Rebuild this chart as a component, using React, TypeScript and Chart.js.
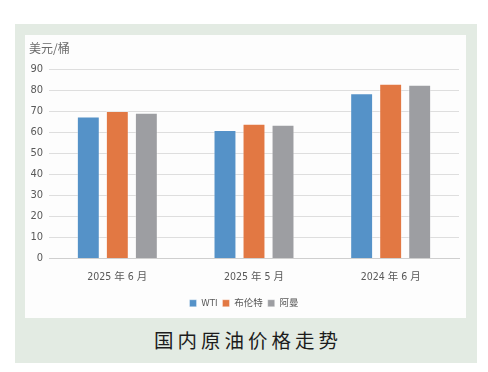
import React, { useEffect, useRef } from "react";
import { Chart, registerables } from "chart.js";

Chart.register(...registerables);

const categories = ["2025 年 6 月", "2025 年 5 月", "2024 年 6 月"];
const seriesNames = ["WTI", "布伦特", "阿曼"];
const wtiValues = [67.5, 61, 78.5];
const brentValues = [70, 64, 83];
const omanValues = [69.2, 63.5, 82.5];
const yTicks = [0, 10, 20, 30, 40, 50, 60, 70, 80, 90];
const unitLabel = "美元/桶";
const chartTitle = "国内原油价格走势";

const colors = ["#5592c8", "#e27843", "#9d9ea2"];
const tickFont = "'Liberation Sans Narrow', 'DejaVu Sans Condensed', 'Noto Sans CJK SC', sans-serif";

export default function App() {
  const ref = useRef<HTMLCanvasElement | null>(null);

  useEffect(() => {
    if (!ref.current) return;
    const values = [wtiValues, brentValues, omanValues];
    const chart = new Chart(ref.current, {
      type: "bar",
      data: {
        labels: categories,
        datasets: seriesNames.map((name, i) => ({
          label: name,
          data: values[i],
          backgroundColor: colors[i],
          borderColor: "rgba(255,255,255,0.35)",
          borderWidth: 1,
          categoryPercentage: 0.637,
          barPercentage: 0.79,
        })),
      },
      options: {
        responsive: false,
        animation: false,
        devicePixelRatio: 1,
        layout: { padding: { left: 4, right: 7, top: 0, bottom: 0 } },
        plugins: {
          title: {
            display: true,
            text: unitLabel,
            align: "start",
            color: "#6a6a6a",
            font: { size: 12, family: "'Noto Sans CJK SC', sans-serif", weight: "normal" },
            padding: { top: 6, bottom: 13.6 },
          },
          legend: {
            position: "bottom",
            labels: {
              boxWidth: 7,
              boxHeight: 7,
              padding: 5,
              color: "#595959",
              font: { size: 9.5, family: tickFont },
            },
          },
          tooltip: { enabled: false },
        },
        scales: {
          x: {
            grid: { display: false, drawTicks: false },
            border: { display: true, color: "#cfcfcf", width: 1 },
            ticks: { color: "#595959", padding: 12, font: { size: 10.5, family: tickFont } },
            afterFit: (s: any) => {
              s.height = 35;
            },
          },
          y: {
            min: 0,
            max: 90,
            afterBuildTicks: (s: any) => {
              s.ticks = yTicks.map((v) => ({ value: v }));
            },
            grid: { color: "#dedede", drawTicks: false, lineWidth: 1 },
            border: { display: false },
            ticks: { color: "#595959", padding: 6, font: { size: 11, family: tickFont } },
            afterFit: (s: any) => {
              s.width = 20;
            },
          },
        },
      },
    });
    return () => chart.destroy();
  }, []);

  return (
    <div style={{ position: "absolute", left: 0, top: 0, width: 488, height: 372, background: "#ffffff" }}>
      <div style={{ position: "absolute", left: 15, top: 24, width: 462, height: 339, background: "#e3ebe3" }} />
      <div style={{ position: "absolute", left: 25, top: 35, width: 441, height: 283, background: "#fdfdfd" }}>
        <canvas ref={ref} width={441} height={283} style={{ width: 441, height: 283, display: "block" }} />
      </div>
      <div
        style={{
          position: "absolute",
          left: 15,
          width: 462,
          top: 327,
          height: 26,
          lineHeight: "26px",
          textAlign: "center",
          fontFamily: "'Noto Sans CJK SC', sans-serif",
          fontSize: 19.5,
          letterSpacing: 4,
          color: "#1c1c1c",
          paddingLeft: 4,
          boxSizing: "border-box",
        }}
      >
        {chartTitle}
      </div>
    </div>
  );
}
